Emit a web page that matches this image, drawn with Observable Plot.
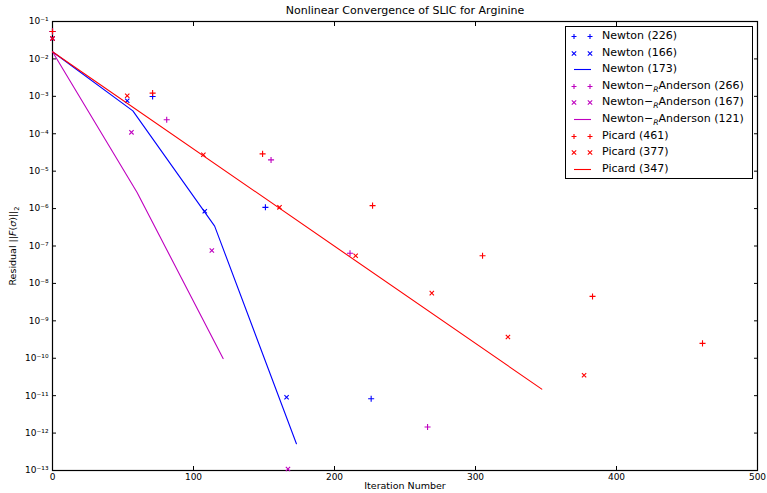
<!DOCTYPE html>
<html><head><meta charset="utf-8">
<script src="https://cdn.jsdelivr.net/npm/d3@7"></script>
<script src="https://cdn.jsdelivr.net/npm/@observablehq/plot@0.6"></script>
<style>
body{margin:0;background:#fff;font-family:"DejaVu Sans",sans-serif;}
#wrap{position:relative;width:767px;height:493px;overflow:hidden;}
#legend{position:absolute;left:565px;top:26px;width:186px;height:151px;border:1px solid #000;background:#fff;font-size:11px;color:#000;}
.row{position:absolute;left:0;height:16px;line-height:16px;white-space:nowrap;}
.row svg{position:absolute;left:0;top:0;}
.row span.t{position:absolute;left:36px;top:0;}
#ylab{position:absolute;left:14px;top:246px;transform:translate(-50%,-50%) rotate(-90deg);font-size:9.5px;white-space:nowrap;}
#title{position:absolute;left:405px;top:4px;transform:translateX(-50%);font-size:11px;white-space:nowrap;}
sub{font-size:70%;}
</style></head><body><div id="wrap"></div><script>
// ---- data ----
const newtonPlusX = [0, 71, 151, 226];
const newtonPlusY = [5.4e-2, 9.9e-4, 1.08e-6, 8.3e-12];
const newtonTimesX = [0, 53, 108, 166];
const newtonTimesY = [3.5e-2, 7.6e-4, 8.5e-7, 9.1e-12];
const newtonLineX = [0, 57, 115, 173];
const newtonLineY = [1.55e-2, 4.1e-4, 3.4e-7, 5.2e-13];
const andersonPlusX = [0, 81, 155, 211, 266];
const andersonPlusY = [5.4e-2, 2.37e-4, 2.0e-5, 6.4e-8, 1.45e-12];
const andersonTimesX = [0, 56, 113, 167];
const andersonTimesY = [3.5e-2, 1.09e-4, 7.6e-8, 1.1e-13];
const andersonLineX = [0, 60, 121];
const andersonLineY = [1.55e-2, 2.7e-6, 9.8e-11];
const picardPlusX = [0, 71, 149, 227, 305, 383, 461];
const picardPlusY = [5.4e-2, 1.22e-3, 2.9e-5, 1.2e-6, 5.5e-8, 4.5e-9, 2.5e-10];
const picardTimesX = [0, 53, 107, 161, 215, 269, 323, 377];
const picardTimesY = [3.5e-2, 1.04e-3, 2.75e-5, 1.08e-6, 5.5e-8, 5.5e-9, 3.7e-10, 3.5e-11];
const picardLineX = [0, 347];
const picardLineY = [1.55e-2, 1.5e-11];
const xTicks = [0, 100, 200, 300, 400, 500];
const yExponents = [-13, -12, -11, -10, -9, -8, -7, -6, -5, -4, -3, -2, -1];
const legendLabels = ["Newton (226)", "Newton (166)", "Newton (173)",
  "Newton−<sub><i>R</i></sub>Anderson (266)", "Newton−<sub><i>R</i></sub>Anderson (167)", "Newton−<sub><i>R</i></sub>Anderson (121)",
  "Picard (461)", "Picard (377)", "Picard (347)"];
// ---- end data ----

const BLUE = "#0000ff", MAG = "#bf00bf", RED = "#ff0000";
const tbl = (xs, ys) => xs.map((x, i) => ({x, y: ys[i]}));
const yTicks = yExponents.map(e => Math.pow(10, e));
const supMap = {"-": "⁻", "0": "⁰", "1": "¹", "2": "²", "3": "³", "4": "⁴", "5": "⁵", "6": "⁶", "7": "⁷", "8": "⁸", "9": "⁹"};
const supFmt = d => "10" + String(Math.round(Math.log10(d))).split("").map(c => supMap[c]).join("");

const series = [
  {kind: "plus", xs: newtonPlusX, ys: newtonPlusY, c: BLUE},
  {kind: "times", xs: newtonTimesX, ys: newtonTimesY, c: BLUE},
  {kind: "line", xs: newtonLineX, ys: newtonLineY, c: BLUE},
  {kind: "plus", xs: andersonPlusX, ys: andersonPlusY, c: MAG},
  {kind: "times", xs: andersonTimesX, ys: andersonTimesY, c: MAG},
  {kind: "line", xs: andersonLineX, ys: andersonLineY, c: MAG},
  {kind: "plus", xs: picardPlusX, ys: picardPlusY, c: RED},
  {kind: "times", xs: picardTimesX, ys: picardTimesY, c: RED},
  {kind: "line", xs: picardLineX, ys: picardLineY, c: RED}
];

const dataMarks = series.map(s => s.kind === "line"
  ? Plot.line(tbl(s.xs, s.ys), {x: "x", y: "y", stroke: s.c, strokeWidth: 1.1})
  : Plot.dot(tbl(s.xs, s.ys), {x: "x", y: "y", symbol: s.kind, stroke: s.c, r: 2.1, strokeWidth: 1.1}));

const chart = Plot.plot({
  width: 767, height: 493,
  marginLeft: 52, marginRight: 10, marginTop: 21, marginBottom: 23,
  style: {fontFamily: "'DejaVu Sans', sans-serif", fontSize: "9px", color: "#000", background: "#fff", overflow: "visible"},
  x: {domain: [0, 500]},
  y: {type: "log", domain: [1e-13, 1e-1]},
  marks: [
    Plot.frame({stroke: "#000", strokeWidth: 1.2}),
    Plot.axisX({ticks: xTicks, tickSize: -4, tickPadding: 7, tickFormat: d => String(d), label: null}),
    Plot.axisX({anchor: "top", ticks: xTicks, tickSize: -4, tickFormat: () => "", label: null}),
    Plot.axisY({ticks: yTicks, tickSize: -4, tickPadding: 8, tickFormat: supFmt, label: null}),
    Plot.axisY({anchor: "right", ticks: yTicks, tickSize: -4, tickFormat: () => "", label: null}),
    ...dataMarks,
    Plot.text(["Iteration Number"], {frameAnchor: "bottom", dy: 18, fontSize: 9.5, fill: "#000"})
  ]
});

const wrap = document.getElementById("wrap");
wrap.appendChild(chart);

const title = document.createElement("div");
title.id = "title"; title.textContent = "Nonlinear Convergence of SLIC for Arginine";
wrap.appendChild(title);

const ylab = document.createElement("div");
ylab.id = "ylab";
ylab.innerHTML = "Residual ||<i>F</i>(<i>σ</i>)||<sub>2</sub>";
wrap.appendChild(ylab);

const leg = document.createElement("div");
leg.id = "legend";
series.forEach((s, i) => {
  const row = document.createElement("div");
  row.className = "row";
  row.style.top = (1 + i * 16.6) + "px";
  row.style.width = "185px";
  let g = "";
  if (s.kind === "line") g = `<line x1="8" x2="25" y1="8.5" y2="8.5" stroke="${s.c}" stroke-width="1.1"/>`;
  else if (s.kind === "plus") g = [8, 24].map(cx => `<path d="M${cx-2.5},8.5h5M${cx},6v5" stroke="${s.c}" stroke-width="1.1"/>`).join("");
  else g = [8, 24].map(cx => `<path d="M${cx-2.2},6.3l4.4,4.4M${cx+2.2},6.3l-4.4,4.4" stroke="${s.c}" stroke-width="1.1"/>`).join("");
  row.innerHTML = `<svg width="34" height="17">${g}</svg><span class="t">${legendLabels[i]}</span>`;
  leg.appendChild(row);
});
wrap.appendChild(leg);
</script></body></html>
